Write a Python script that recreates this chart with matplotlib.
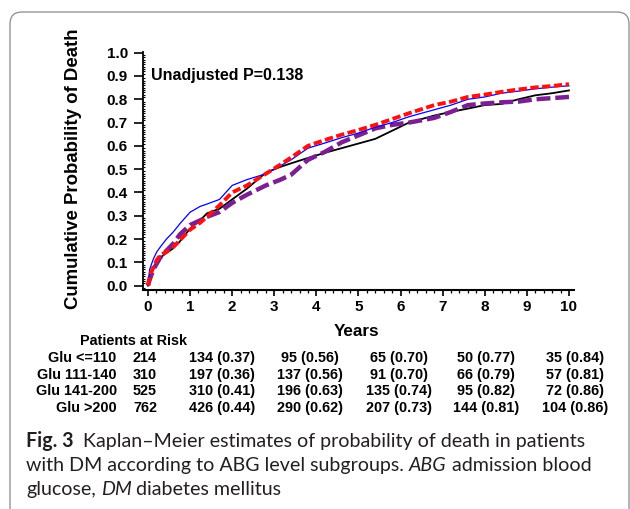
import matplotlib
matplotlib.use("Agg")
import matplotlib.pyplot as plt
from matplotlib.patches import FancyBboxPatch
from matplotlib.transforms import IdentityTransform
from matplotlib.ticker import MultipleLocator, FormatStrFormatter

plt.rcParams['font.family'] = ['Liberation Sans', 'DejaVu Sans']
plt.rcParams['lines.scale_dashes'] = False

# Kaplan-Meier curves (years, cumulative probability)
years = [0, 0.04, 0.13, 0.21, 0.29, 0.44, 0.6, 0.76, 1.0, 1.24, 1.4, 1.7, 2.0,
         2.35, 2.8, 3.15, 3.4, 3.8, 4.2, 4.6, 5.0, 5.4, 5.8, 6.2, 6.8, 7.2,
         7.6, 8.0, 8.4, 8.8, 9.2, 9.6, 10.0]
glu_le110 = [0, 0.04, 0.07, 0.10, 0.12, 0.14, 0.16, 0.19, 0.245, 0.28, 0.31,
             0.33, 0.37, 0.416, 0.485, 0.51, 0.525, 0.548, 0.57, 0.59, 0.61,
             0.63, 0.665, 0.70, 0.73, 0.746, 0.76, 0.775, 0.78, 0.80, 0.817,
             0.826, 0.838]
glu_111_140 = [0, 0.025, 0.07, 0.095, 0.12, 0.15, 0.18, 0.22, 0.26, 0.28,
               0.295, 0.316, 0.355, 0.39, 0.43, 0.455, 0.476, 0.54, 0.574,
               0.615, 0.645, 0.675, 0.69, 0.70, 0.72, 0.746, 0.775, 0.782,
               0.787, 0.79, 0.80, 0.805, 0.81]
glu_141_200 = [0, 0.04, 0.08, 0.11, 0.13, 0.145, 0.166, 0.195, 0.24, 0.27,
               0.295, 0.345, 0.40, 0.43, 0.48, 0.52, 0.55, 0.60, 0.625, 0.648,
               0.668, 0.69, 0.715, 0.74, 0.775, 0.79, 0.81, 0.82, 0.832,
               0.842, 0.851, 0.857, 0.865]
glu_gt200 = [0, 0.07, 0.115, 0.145, 0.165, 0.20, 0.23, 0.266, 0.315, 0.34,
             0.35, 0.37, 0.43, 0.455, 0.48, 0.515, 0.54, 0.59, 0.612, 0.635,
             0.655, 0.68, 0.70, 0.725, 0.755, 0.775, 0.80, 0.81, 0.826, 0.835,
             0.845, 0.852, 0.858]

# patients at risk table
group_labels = ["Glu <=110", "Glu 111-140", "Glu 141-200", "Glu >200"]
risk_n = [[214, 134, 95, 65, 50, 35],
          [310, 197, 137, 91, 66, 57],
          [525, 310, 196, 135, 95, 72],
          [762, 426, 290, 207, 144, 104]]
risk_p = [[0.37, 0.56, 0.70, 0.77, 0.84],
          [0.36, 0.56, 0.70, 0.79, 0.81],
          [0.41, 0.63, 0.74, 0.82, 0.86],
          [0.44, 0.62, 0.73, 0.81, 0.86]]

W, H = 630, 509
fig = plt.figure(figsize=(W / 100, H / 100), dpi=100)

# rounded frame round the figure
frame = FancyBboxPatch((10, -30), 619, H - 12 + 30,
                       boxstyle="round,pad=0,rounding_size=12",
                       transform=IdentityTransform(), fill=False,
                       edgecolor='#8a8a8a', linewidth=0.9)
fig.patches.append(frame)

ax = fig.add_axes([142.5 / W, 1 - 290 / H, (574 - 142.5) / W, (290 - 52) / H])

ax.plot(years, glu_le110, color='black', lw=1.3, zorder=3)
ax.plot(years, glu_111_140, color='#7B1F91', lw=3.2, dashes=(10, 3.5), zorder=4)
ax.plot(years, glu_gt200, color='#0000FF', lw=0.9, zorder=5)
ax.plot(years, glu_141_200, color='#FF1010', lw=2.8, dashes=(6, 2.5), zorder=6)

ax.set_xlim(-0.13, 10.12)
ax.set_ylim(-0.019, 1.003)
for s in ['top', 'right']:
    ax.spines[s].set_visible(False)
ax.spines['left'].set_linewidth(1.3)
ax.spines['bottom'].set_linewidth(1.5)

ax.xaxis.set_minor_locator(MultipleLocator(0.2))
ax.yaxis.set_minor_locator(MultipleLocator(0.01))
ax.yaxis.set_major_formatter(FormatStrFormatter('%.1f'))
ax.set_xticks(range(0, 11))
ax.set_yticks([i / 10 for i in range(11)])
ax.tick_params(axis='y', which='major', direction='out', length=6.5, width=1.2,
               pad=4, labelsize=11)
ax.tick_params(axis='y', which='minor', direction='in', length=1.6, width=0.8)
ax.tick_params(axis='x', which='major', direction='out', length=4, width=1.2,
               pad=3, labelsize=11)
ax.tick_params(axis='x', which='minor', direction='out', length=2, width=0.9)
for lab in ax.get_xticklabels() + ax.get_yticklabels():
    lab.set_fontweight('bold')

ax.text(0.07, 0.903, "Unadjusted P=0.138", fontsize=11.5, fontweight='bold',
        va='center', ha='left')

fig.text(74 / W, 1 - 169 / H, "Cumulative Probability of Death", rotation=90,
         ha='center', va='center', fontsize=13.4, fontweight='bold')
fig.text(357 / W, 1 - 332 / H, "Years", ha='center', va='center',
         fontsize=12.3, fontweight='bold')

# patients at risk
fig.text(134 / W, 1 - 341 / H, "Patients at Risk", ha='center', va='center',
         fontsize=10.4, fontweight='bold')
col_px = [145, 222, 310, 398.5, 486, 575]
for i, lab in enumerate(group_labels):
    y = 1 - (358 + 16.7 * i) / H
    fig.text(116.7 / W, y, lab, ha='right', va='center', fontsize=10.4,
             fontweight='bold')
    for j, n in enumerate(risk_n[i]):
        s = str(n) if j == 0 else f"{n} ({risk_p[i][j - 1]:.2f})"
        fig.text(col_px[j] / W, y, s, ha='center', va='center',
                 fontsize=10.4, fontweight='bold')

# caption with mixed styles
cap_font = ['Lato', 'DejaVu Sans']
cap_color = '#231f20'
renderer = fig.canvas.get_renderer()


def width_of(s, size, **kw):
    t = fig.text(0, 0, s, fontsize=size, family=cap_font, **kw)
    w = t.get_window_extent(renderer=renderer).width
    t.remove()
    return w


line2 = "with DM according to ABG level subgroups. ABG admission blood"
cap_size = 12 * 568 / width_of(line2, 12)
space = width_of("a a", cap_size) - width_of("aa", cap_size)


def draw_runs(x, y, runs):
    for k, (s, kw) in enumerate(runs):
        if k > 0:
            x += space
        t = fig.text(x / W, 1 - y / H, s, fontsize=cap_size, family=cap_font,
                     color=cap_color, va='baseline', ha='left', **kw)
        x += t.get_window_extent(renderer=renderer).width


draw_runs(26, 447, [("Fig. 3", dict(fontweight='bold')),
                    (" Kaplan\u2013Meier estimates of probability of death in patients", {})])
draw_runs(26, 471, [("with DM according to ABG level subgroups.", {}),
                    ("ABG", dict(style='italic')),
                    ("admission blood", {})])
draw_runs(26, 495, [("glucose,", {}),
                    ("DM", dict(style='italic')),
                    ("diabetes mellitus", {})])

fig.savefig("out.png", dpi=100)
